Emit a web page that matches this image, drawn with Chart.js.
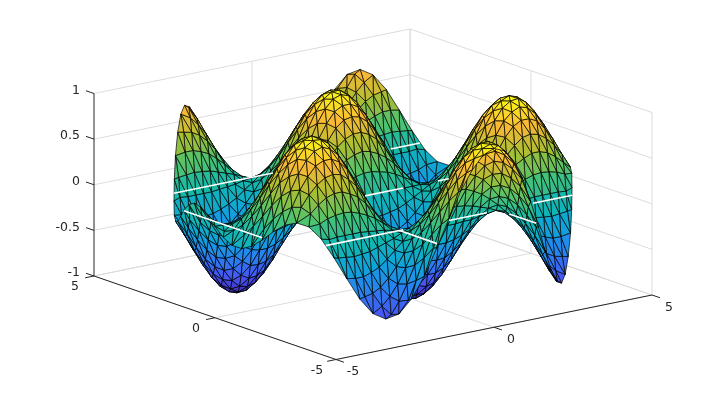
<!DOCTYPE html>
<html><head><meta charset="utf-8">
<style>html,body{margin:0;padding:0;background:#fff}canvas{display:block}</style>
<script src="https://cdn.jsdelivr.net/npm/chart.js@4"></script>
</head><body><canvas id="c" width="720" height="405"></canvas>
<script>
// ---- values ----
const xTicks=[-5,0,5], yTicks=[-5,0,5], zTicks=[-1,-0.5,0,0.5,1];
const xTickLabels=["-5","0","5"], yTickLabels=["-5","0","5"], zTickLabels=["-1","-0.5","0","0.5","1"];
const xEven=[0,.25,.5,.75,1,1.25,1.5,1.75,2,2.25,2.5,2.75,3,3.25,3.5,3.75,4,4.25,4.5,4.75];
const xOdd=[.125,.375,.625,.875,1.125,1.375,1.625,1.875,2.125,2.375,2.625,2.875,3.125,3.375,3.625,3.875,4.125,4.375,4.625,4.875];
const yLevels=[0,.22,.44,.66,.88,1.1,1.32,1.54,1.76,1.98,2.2,2.42,2.64,2.86,3.08,3.3,3.52,3.74,3.96,4.18,4.4,4.62,4.84];
// surface heights for x>=0,y>=0; the picture is mirror-even in x and mirror-odd in y
const zRows=[
[0,0,0,0,0,0,0,0,0,0,0,0,0,0,0,0,0,0,0,0],
[.22,.2,.18,.14,.09,.04,-.01,-.07,-.11,-.16,-.19,-.21,-.22,-.21,-.19,-.16,-.12,-.07,-.02,.04],
[.43,.41,.37,.31,.23,.13,.03,-.08,-.18,-.27,-.34,-.39,-.42,-.42,-.4,-.35,-.28,-.19,-.09,.02],
[.61,.57,.5,.39,.26,.12,-.03,-.18,-.32,-.44,-.53,-.59,-.61,-.6,-.54,-.46,-.34,-.2,-.05],
[.77,.75,.68,.56,.42,.24,.05,-.14,-.32,-.48,-.62,-.71,-.76,-.77,-.72,-.63,-.5,-.34,-.16,.03],
[.88,.83,.72,.57,.38,.17,-.05,-.27,-.47,-.64,-.78,-.86,-.89,-.87,-.79,-.66,-.5,-.29,-.08],
[.97,.94,.85,.71,.52,.31,.07,-.17,-.4,-.61,-.78,-.9,-.96,-.96,-.91,-.79,-.63,-.43,-.2],
[.99,.93,.81,.64,.43,.2,-.05,-.3,-.53,-.72,-.87,-.96,-1,-.97,-.88,-.74,-.56,-.33,-.09],
[.98,.95,.86,.72,.53,.31,.07,-.17,-.41,-.62,-.79,-.91,-.97,-.98,-.92,-.81,-.64,-.44,-.21],
[.91,.85,.74,.59,.4,.18,-.05,-.27,-.48,-.66,-.8,-.88,-.92,-.89,-.81,-.68,-.51,-.3],
[.81,.78,.71,.59,.44,.25,.06,-.14,-.34,-.51,-.65,-.75,-.8,-.8,-.76,-.66,-.53,-.36],
[.65,.61,.54,.42,.28,.13,-.04,-.2,-.35,-.48,-.57,-.64,-.66,-.64,-.58,-.49,-.37],
[.48,.47,.42,.35,.26,.15,.03,-.09,-.2,-.3,-.39,-.44,-.48,-.48,-.45,-.39,-.31],
[.28,.26,.23,.18,.12,.05,-.02,-.08,-.15,-.2,-.24,-.27,-.28,-.27,-.25,-.21],
[.06,.06,.05,.05,.03,.02,0,-.01,-.03,-.04,-.05,-.06,-.06,-.06,-.06,-.05],
[-.16,-.15,-.13,-.1,-.07,-.03,.01,.05,.08,.11,.14,.15,.16,.15,.14],
[-.37,-.36,-.32,-.27,-.2,-.12,-.03,.07,.15,.23,.3,.34,.37,.37],
[-.56,-.52,-.46,-.36,-.24,-.11,.03,.17,.3,.41,.49,.54,.56],
[-.73,-.71,-.64,-.53,-.39,-.23,-.05,.13,.3,.46,.58,.67],
[-.85,-.8,-.7,-.55,-.37,-.17,.05,.26,.45,.62,.75],
[-.95,-.92,-.84,-.7,-.51,-.3,-.07,.17,.4,.6],
[-.99,-.93,-.81,-.64,-.43,-.19,.05],
[-.99,-.96,-.87,-.73,-.54]
];
// rim of the disc (radius 5), one quadrant
const rimX=[5,4.99,4.96,4.9,4.83,4.74,4.62,4.48,4.33,4.16,3.97,3.76,3.54,3.3,3.04,2.78,2.5,2.21,1.91,1.61,1.29,.98,.65,.33,0];
const rimY=[0,.33,.65,.98,1.29,1.61,1.91,2.21,2.5,2.78,3.04,3.3,3.54,3.76,3.97,4.16,4.33,4.48,4.62,4.74,4.83,4.9,4.96,4.99,5];
const rimZ=[0,.09,.15,.16,.11,.02,-.09,-.18,-.22,-.19,-.07,.13,.35,.57,.73,.79,.74,.58,.34,.04,-.27,-.55,-.77,-.91,-.96];
// visible pieces of the white level lines at z=0: [x1,y1,x2,y2]
const zeroLines=[
[-3.9,3.14,-.76,3.14],[2.96,3.14,3.89,3.14],
[-.25,0,.96,0],[2.05,0,2.4,0],
[-3.9,-3.14,-1.45,-3.14],[0,-3.14,1.2,-3.14],[2.66,-3.14,3.9,-3.14],
[-4.71,1.67,-4.71,-1.57],[1.57,-3.58,1.57,-4.7],[-1.57,-3.14,-1.57,-4.7]
];
const colorStops=[[62,38,168],[71,84,244],[40,130,240],[15,165,215],[20,185,170],[80,195,110],[170,190,50],[250,185,55],[250,250,20]];

// ---- view of the box ----
const AX=31.6, AY=24.2, BX=6.45, BY=8.35, CZ=91.25;
const viewH=(x,y)=>AX*x-AY*y;
const viewV=(x,y,z)=>BX*x+BY*y+CZ*z;
const P=(x,y,z)=>({x:viewH(x,y),y:viewV(x,y,z)});

function faceColor(z){
  const t=Math.max(0,Math.min(1,(z+1)/2))*(colorStops.length-1);
  const i=Math.min(colorStops.length-2,Math.floor(t)),f=t-i;
  const a=colorStops[i],b=colorStops[i+1];
  return `rgb(${a.map((v,k)=>Math.round(v+(b[k]-v)*f)).join(',')})`;
}

// vertices
const pts=[];
zRows.forEach((row,j)=>{
  const xs=j%2?xOdd:xEven, y=yLevels[j];
  row.forEach((z,k)=>{
    const x=xs[k];
    pts.push([x,y,z]);
    if(x!==0)pts.push([-x,y,z]);
    if(j){pts.push([x,-y,-z]); if(x!==0)pts.push([-x,-y,-z]);}
  });
});
rimX.forEach((x,k)=>{
  const y=rimY[k],z=rimZ[k];
  pts.push([x,y,z]);
  if(x!==0)pts.push([-x,y,z]);
  if(y!==0)pts.push([x,-y,-z]);
  if(x!==0&&y!==0)pts.push([-x,-y,-z]);
});

// Delaunay triangulation of the vertices in the x-y plane
// (a tiny bend keeps rows from being exactly collinear while triangulating)
function triangulate(p){
  const n=p.length, v=p.map(q=>[q[0]+2e-3*q[1]*q[1],q[1]+2e-3*q[0]*q[0]]);
  v.push([-500,-500],[500,-500],[0,500]);
  const circ=(a,b,c)=>{
    const [ax,ay]=v[a],[bx,by]=v[b],[cx,cy]=v[c];
    const d=2*(ax*(by-cy)+bx*(cy-ay)+cx*(ay-by));
    const ux=((ax*ax+ay*ay)*(by-cy)+(bx*bx+by*by)*(cy-ay)+(cx*cx+cy*cy)*(ay-by))/d;
    const uy=((ax*ax+ay*ay)*(cx-bx)+(bx*bx+by*by)*(ax-cx)+(cx*cx+cy*cy)*(bx-ax))/d;
    return {a,b,c,ux,uy,r:(ax-ux)**2+(ay-uy)**2};
  };
  let tris=[circ(n,n+1,n+2)];
  for(let i=0;i<n;i++){
    const [x,y]=v[i],edges=new Map(),keep=[];
    for(const t of tris){
      if((x-t.ux)**2+(y-t.uy)**2<t.r){
        for(const [s,e] of [[t.a,t.b],[t.b,t.c],[t.c,t.a]]){
          const key=s<e?s+'_'+e:e+'_'+s;
          edges.set(key,edges.has(key)?null:[s,e]);
        }
      } else keep.push(t);
    }
    tris=keep;
    for(const e of edges.values()) if(e) tris.push(circ(e[0],e[1],i));
  }
  return tris.filter(t=>t.a<n&&t.b<n&&t.c<n).map(t=>[t.a,t.b,t.c]);
}
const faces=triangulate(pts).map(f=>{
  const [a,b,c]=f.map(i=>pts[i]);
  const mx=(a[0]+b[0]+c[0])/3,my=(a[1]+b[1]+c[1])/3,mz=(a[2]+b[2]+c[2])/3;
  return {a,b,c,mz,depth:.0527*mx+.0687*my-.25*mz};
}).sort((p,q)=>p.depth-q.depth); // nearest first

// ---- datasets: the chart paints index 0 last, so front things come first ----
const line=(data,color,width)=>({data,borderColor:color,borderWidth:width,showLine:true,fill:false,pointRadius:0,tension:0});
const datasets=[];
zeroLines.forEach(s=>datasets.push(line([P(s[0],s[1],0),P(s[2],s[3],0)],'#ffffff',1.6)));
faces.forEach(f=>{
  datasets.push({data:[P(...f.a),P(...f.b),P(...f.c),P(...f.a)],borderColor:'#000',borderWidth:.7,borderDash:[1000,0],
    backgroundColor:faceColor(f.mz),showLine:true,fill:'shape',pointRadius:0,tension:0});
});
const DARK='#262626', GRID='#dcdcdc';
const xLo=xTicks[0],xHi=xTicks[2],yLo=yTicks[0],yHi=yTicks[2],zLo=zTicks[0],zHi=zTicks[4];
// box axes and ticks
datasets.push(line([P(xLo,yHi,zLo),P(xLo,yHi,zHi)],DARK,1));
datasets.push(line([P(xLo,yHi,zLo),P(xLo,yLo,zLo)],DARK,1));
datasets.push(line([P(xLo,yLo,zLo),P(xHi,yLo,zLo)],DARK,1));
zTicks.forEach(z=>datasets.push(line([P(xLo,yHi,z),P(xLo,yHi+.33,z)],DARK,1)));
xTicks.forEach(x=>datasets.push(line([P(x,yLo,zLo),P(x,yLo-.33,zLo)],DARK,1)));
yTicks.forEach(y=>datasets.push(line([P(xLo,y,zLo),P(xLo-.28,y,zLo)],DARK,1)));
// walls and floor grid
zTicks.forEach(z=>{
  datasets.push(line([P(xLo,yHi,z),P(xHi,yHi,z)],GRID,1));
  datasets.push(line([P(xHi,yHi,z),P(xHi,yLo,z)],GRID,1));
});
xTicks.forEach(x=>{
  datasets.push(line([P(x,yLo,zLo),P(x,yHi,zLo)],GRID,1));
  if(x!==xLo)datasets.push(line([P(x,yHi,zLo),P(x,yHi,zHi)],GRID,1));
});
yTicks.forEach(y=>{
  datasets.push(line([P(xLo,y,zLo),P(xHi,y,zLo)],GRID,1));
  datasets.push(line([P(xHi,y,zLo),P(xHi,y,zHi)],GRID,1));
});

const tickText={id:'tickText',afterDraw(chart){
  const {ctx,scales}=chart;
  const px=p=>[scales.x.getPixelForValue(p.x),scales.y.getPixelForValue(p.y)];
  ctx.save();
  ctx.font='12.5px "DejaVu Sans"';
  ctx.fillStyle=DARK;
  ctx.textBaseline='middle';
  ctx.textAlign='right';
  zTicks.forEach((z,i)=>{const [a,b]=px(P(xLo,yHi,z));ctx.fillText(zTickLabels[i],a-14,b-3);});
  ctx.textAlign='center';
  yTicks.forEach((y,i)=>{const [a,b]=px(P(xLo,y,zLo));ctx.fillText(yTickLabels[i],a-19,b+11);});
  xTicks.forEach((x,i)=>{const [a,b]=px(P(x,yLo,zLo));ctx.fillText(xTickLabels[i],a+17,b+12.5);});
  ctx.restore();
}};

new Chart(document.getElementById('c'),{
  type:'scatter',
  data:{datasets},
  plugins:[tickText],
  options:{
    responsive:false,animation:false,devicePixelRatio:1,events:[],
    layout:{padding:0},
    plugins:{legend:{display:false},tooltip:{enabled:false},title:{display:false}},
    scales:{
      x:{type:'linear',display:false,min:-373,max:347},
      y:{type:'linear',display:false,min:-210.75,max:194.25}
    }
  }
});
</script></body></html>
